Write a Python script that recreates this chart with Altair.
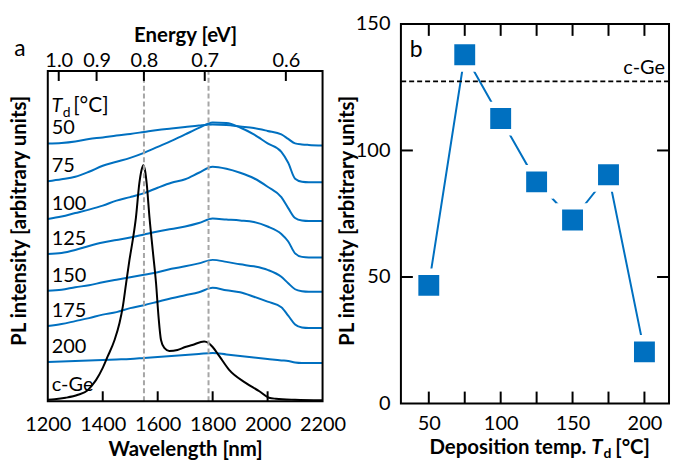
import altair as alt
import pandas as pd

FONT = "Lato"
BLUE = "#0070C0"

# ---------------- panel a: stacked PL spectra ----------------
wavelength = [1200, 1250, 1300, 1350, 1400, 1450, 1500, 1550, 1600, 1650, 1700,
              1750, 1800, 1850, 1900, 1950, 2000, 2050, 2075, 2100, 2125, 2150, 2200]
td_names = ["50", "75", "100", "125", "150", "175", "200"]
pl_50 = [259, 259.5, 261, 263.5, 265, 267, 268.5, 270.5, 272.5, 274, 275.5, 277,
         278, 277.5, 276, 274.5, 271.5, 268, 263.5, 259, 258, 257.5, 257]
pl_75 = [221, 223, 225.5, 230.5, 236.5, 240.5, 244.5, 249.5, 255.5, 261.5, 268, 274.5,
         280, 279.5, 275, 268, 259, 250.5, 239.5, 223.5, 220.5, 220, 220]
pl_100 = [183, 185.5, 189, 192.5, 196.5, 201.5, 205, 209, 214.5, 219.5, 223, 229.5,
          235.5, 233.5, 229.5, 224, 215.5, 205, 194, 184, 181.5, 181, 181]
pl_125 = [148, 149, 152, 156, 159.5, 162, 164.5, 167.5, 170.5, 173, 175.5, 179,
          183.5, 182.5, 181.5, 180, 175.5, 168, 160.5, 148.5, 145, 144.5, 144.5]
pl_150 = [111, 112, 114.5, 116.5, 119.5, 122, 124.5, 127, 129.5, 133, 135.5, 138.5,
          142, 140, 137.5, 135.5, 132, 125, 118.5, 112.5, 110.5, 110, 110]
pl_175 = [75.5, 77.5, 80.5, 83.5, 87, 89.5, 93.5, 96.5, 100, 103.5, 106.5, 109.5,
          114, 111.5, 109.5, 105, 100, 94.5, 86, 77, 74, 73.5, 73.5]
pl_200 = [39.5, 40, 40.5, 41, 41.5, 42, 42.5, 43.5, 44.5, 45.5, 46.5, 47.5,
          48.5, 47, 45.5, 44, 42.5, 41, 40.5, 39, 38.5, 38.5, 38.5]
spectra = [pl_50, pl_75, pl_100, pl_125, pl_150, pl_175, pl_200]

cge_wavelength = [1200, 1225, 1265, 1310, 1345, 1358, 1376, 1400, 1418, 1443, 1461,
                  1473, 1485, 1497, 1509, 1521, 1533, 1541, 1548, 1555, 1560, 1570,
                  1582, 1594, 1603, 1612, 1624, 1642, 1672, 1700, 1726, 1769, 1785,
                  1800, 1825, 1860, 1920, 1970, 2005, 2030, 2100, 2200]
cge_pl = [1.5, 2, 3.5, 6.5, 11, 15, 21.5, 33.5, 45, 61.5, 78.5, 95, 118.5, 141.5,
          161.5, 185, 218.5, 232, 237, 230, 218.5, 185, 151.5, 118.5, 85, 61.5, 53.5,
          50.5, 51.5, 54.5, 56.5, 60, 58.5, 54.5, 45, 31.5, 18.5, 10, 3.5, 2.5, 1.5, 1]

marker_wl = [1550, 1785]
energy_ticks = [1.0, 0.9, 0.8, 0.7, 0.6]
wl_labels = [1200, 1400, 1600, 1800, 2000, 2200]
wl_minor = [1400, 1600, 1800, 2000]
HC = 1239.84  # eV*nm

# ---------------- panel b: integrated PL vs deposition temperature ----------------
dep_temp = [50, 75, 100, 125, 150, 175, 200]
pl_total = [46.7, 137.8, 112.6, 87.6, 72.5, 90.4, 20.4]
cge_level = 127.3
temp_ticks = [50, 75, 100, 125, 150, 175, 200]
temp_labels = [50, 100, 150, 200]
int_ticks = [50, 100]
int_labels = [0, 50, 100, 150]

# ---------------- geometry ----------------
W_L, H_L = 276, 379
FRAME_TOP = 331.7            # top edge of the spectra frame, in y units
FRAME_PX = H_L - FRAME_TOP   # same edge in pixels from the top of the view
W_R, H_R = 269.3, 381.3
LABEL_SIZE = 20
TITLE_SIZE = 20.5

# ---------------- panel a ----------------
rows = []
for name, vals in zip(td_names, spectra):
    for w, v in zip(wavelength, vals):
        rows.append({"wl": w, "pl": v, "sample": name})
blue_df = pd.DataFrame(rows)
cge_df = pd.DataFrame({"wl": cge_wavelength, "pl": cge_pl})
label_df = pd.DataFrame({"name": td_names + ["c-Ge"],
                         "pl": [s[0] for s in spectra] + [cge_pl[0]]})

xs = alt.Scale(domain=[1200, 2200], nice=False, zero=False)
ys = alt.Scale(domain=[0, H_L], nice=False, zero=False)


def xa(field="wl:Q", axis=None):
    return alt.X(field, scale=xs, axis=axis)


def ya(field="pl:Q", axis=None):
    return alt.Y(field, scale=ys, axis=axis)


bottom_axis = alt.Axis(orient="bottom", values=wl_labels, title="Wavelength [nm]",
                       ticks=False, tickSize=0, domain=False, grid=False,
                       labelPadding=13, labelFlush=False, labelOverlap=False,
                       format="d", titleY=55, titleBaseline="alphabetic")
top_axis = alt.Axis(orient="top", values=[HC / e for e in energy_ticks],
                    labelExpr="format(1239.84 / datum.value, '.1f')",
                    title="Energy [eV]", offset=-FRAME_PX, ticks=False, tickSize=0,
                    domain=False, grid=False, labelPadding=4.5,
                    labelBaseline="alphabetic", labelFlush=False, labelOverlap=False,
                    titleY=-30, titleBaseline="alphabetic")
left_axis = alt.Axis(title="PL intensity [arbitrary units]", labels=False, ticks=False,
                     domain=False, grid=False, titleX=-28, titleY=197.3,
                     titleBaseline="middle", titleAngle=270)

blue_lines = alt.Chart(blue_df).mark_line(color=BLUE, strokeWidth=2,
                                          interpolate="monotone").encode(
    x=xa(axis=bottom_axis), y=ya(axis=left_axis), detail="sample:N")

cge_line = alt.Chart(cge_df).mark_line(color="black", strokeWidth=2,
                                       interpolate="monotone").encode(x=xa(), y=ya())

markers = alt.Chart(pd.DataFrame({"wl": marker_wl, "y0": 0, "y1": FRAME_TOP})).mark_rule(
    color="#a6a6a6", strokeWidth=2, strokeDash=[5, 3]).encode(
    x=xa(), y=ya("y0:Q"), y2="y1:Q")

frame_df = pd.DataFrame({"x0": [1200], "x1": [2200], "y0": [0], "y1": [FRAME_TOP]})
frame = alt.Chart(frame_df).mark_rect(fillOpacity=0, stroke="black", strokeWidth=2).encode(
    x=xa("x0:Q"), x2="x1:Q", y=ya("y0:Q"), y2="y1:Q")

energy_df = pd.DataFrame({"eV": energy_ticks})
energy_ticks_layer = alt.Chart(energy_df).transform_calculate(
    wl=f"{HC} / datum.eV").mark_rule(color="black", strokeWidth=2).encode(
    x=xa(axis=top_axis), y=alt.value(FRAME_PX), y2=alt.value(FRAME_PX + 10))

wl_ticks_layer = alt.Chart(pd.DataFrame({"wl": wl_minor})).mark_rule(
    color="black", strokeWidth=2).encode(
    x=xa(), y=alt.value(H_L), y2=alt.value(H_L - 10))

curve_labels = alt.Chart(label_df).mark_text(
    align="left", baseline="middle", dy=-15, fontSize=LABEL_SIZE, font=FONT,
    color="black").encode(x=alt.value(4), y=ya(), text="name:N")

hdr_T = alt.Chart(pd.DataFrame({"t": ["T"]})).mark_text(
    align="left", baseline="alphabetic", fontSize=LABEL_SIZE, font=FONT,
    fontStyle="italic", color="black").encode(
    x=alt.value(3.7), y=alt.value(88.8), text="t:N")
hdr_d = alt.Chart(pd.DataFrame({"t": ["d"]})).mark_text(
    align="left", baseline="alphabetic", fontSize=14, font=FONT, color="black").encode(
    x=alt.value(15), y=alt.value(93.3), text="t:N")
hdr_unit = alt.Chart(pd.DataFrame({"t": ["[°C]"]})).mark_text(
    align="left", baseline="alphabetic", fontSize=LABEL_SIZE + 1, font=FONT,
    color="black").encode(x=alt.value(25.5), y=alt.value(88.8), text="t:N")
tag_a = alt.Chart(pd.DataFrame({"t": ["a"]})).mark_text(
    align="center", baseline="middle", fontSize=23, font=FONT, color="black").encode(
    x=alt.value(-28), y=alt.value(25.5), text="t:N")

left = alt.layer(
    blue_lines, cge_line, markers, frame, energy_ticks_layer, wl_ticks_layer,
    curve_labels, hdr_T, hdr_d, hdr_unit, tag_a
).resolve_axis(x="independent", y="independent").properties(width=W_L, height=H_L)

# ---------------- panel b ----------------
xr = alt.Scale(domain=[30.6, 217.1], nice=False, zero=False)
yr = alt.Scale(domain=[0, 150], nice=False, zero=False)

pts_df = pd.DataFrame({"T": dep_temp, "PL": pl_total})
r_bottom = alt.Axis(values=temp_labels, title=None, ticks=False, tickSize=0,
                    domain=False, grid=False, labelPadding=10, labelFlush=False,
                    labelOverlap=False)
r_left = alt.Axis(values=int_labels, title="PL intensity [arbitrary units]", ticks=False,
                  tickSize=0, domain=False, grid=False, labelPadding=11,
                  labelFlush=False, labelOverlap=False, titleX=-54, titleY=197.3,
                  titleBaseline="middle", titleAngle=270)

r_line = alt.Chart(pts_df).mark_line(color=BLUE, strokeWidth=2).encode(
    x=alt.X("T:Q", scale=xr, axis=r_bottom), y=alt.Y("PL:Q", scale=yr, axis=r_left))
r_pts = alt.Chart(pts_df).mark_square(
    size=756, color=BLUE, fill=BLUE, opacity=1, stroke="white", strokeWidth=6.5).encode(
    x=alt.X("T:Q", scale=xr, axis=None), y=alt.Y("PL:Q", scale=yr, axis=None))

cge_df_b = pd.DataFrame({"PL": [cge_level], "t": ["c-Ge"]})
r_cge = alt.Chart(cge_df_b).mark_rule(color="black", strokeWidth=2,
                                      strokeDash=[5, 3]).encode(
    y=alt.Y("PL:Q", scale=yr, axis=None))
r_cge_text = alt.Chart(cge_df_b).mark_text(
    align="right", baseline="middle", dy=-13, fontSize=LABEL_SIZE, font=FONT,
    color="black").encode(
    x=alt.value(W_R - 4), y=alt.Y("PL:Q", scale=yr, axis=None), text="t:N")

xt_df = pd.DataFrame({"T": temp_ticks})
yt_df = pd.DataFrame({"PL": int_ticks})
tick_style = dict(color="black", strokeWidth=2)
r_xt_top = alt.Chart(xt_df).mark_rule(**tick_style).encode(
    x=alt.X("T:Q", scale=xr, axis=None), y=alt.value(0), y2=alt.value(12))
r_xt_bot = alt.Chart(xt_df).mark_rule(**tick_style).encode(
    x=alt.X("T:Q", scale=xr, axis=None), y=alt.value(H_R), y2=alt.value(H_R - 12))
r_yt_left = alt.Chart(yt_df).mark_rule(**tick_style).encode(
    y=alt.Y("PL:Q", scale=yr, axis=None), x=alt.value(0), x2=alt.value(12))
r_yt_right = alt.Chart(yt_df).mark_rule(**tick_style).encode(
    y=alt.Y("PL:Q", scale=yr, axis=None), x=alt.value(W_R), x2=alt.value(W_R - 12))

tag_b = alt.Chart(pd.DataFrame({"t": ["b"]})).mark_text(
    align="center", baseline="middle", fontSize=23, font=FONT, color="black").encode(
    x=alt.value(15.3), y=alt.value(26), text="t:N")

# x-axis title with italic T and subscript d
BASE_Y = 431.5
title_style = dict(baseline="alphabetic", fontSize=TITLE_SIZE, font=FONT,
                   fontWeight="bold", color="black")
xt_main = alt.Chart(pd.DataFrame({"t": ["Deposition temp."]})).mark_text(
    align="right", **title_style).encode(x=alt.value(186.3), y=alt.value(BASE_Y), text="t:N")
xt_T = alt.Chart(pd.DataFrame({"t": ["T"]})).mark_text(
    align="left", fontStyle="italic", **title_style).encode(
    x=alt.value(191.3), y=alt.value(BASE_Y), text="t:N")
xt_d = alt.Chart(pd.DataFrame({"t": ["d"]})).mark_text(
    align="left", baseline="alphabetic", fontSize=14, font=FONT, fontWeight="bold",
    color="black").encode(x=alt.value(203.5), y=alt.value(BASE_Y + 4.5), text="t:N")
xt_unit = alt.Chart(pd.DataFrame({"t": ["[°C]"]})).mark_text(
    align="left", **title_style).encode(x=alt.value(215.3), y=alt.value(BASE_Y), text="t:N")

right = alt.layer(
    r_line, r_cge, r_pts, r_cge_text, r_xt_top, r_xt_bot, r_yt_left, r_yt_right,
    tag_b, xt_main, xt_T, xt_d, xt_unit
).resolve_axis(x="independent", y="independent").properties(
    width=W_R, height=H_R, view=alt.ViewBackground(stroke="black", strokeWidth=2))

chart = alt.hconcat(left, right, spacing=78.7, bounds="flush").configure(
    font=FONT, padding={"left": 9, "top": 12, "right": 0, "bottom": 0}
).configure_axis(
    labelFont=FONT, labelFontSize=LABEL_SIZE, labelColor="black",
    titleFont=FONT, titleFontSize=TITLE_SIZE, titleFontWeight="bold", titleColor="black"
).configure_view(strokeWidth=0)

chart.save("out.html", embed_options={"renderer": "svg", "actions": False})
